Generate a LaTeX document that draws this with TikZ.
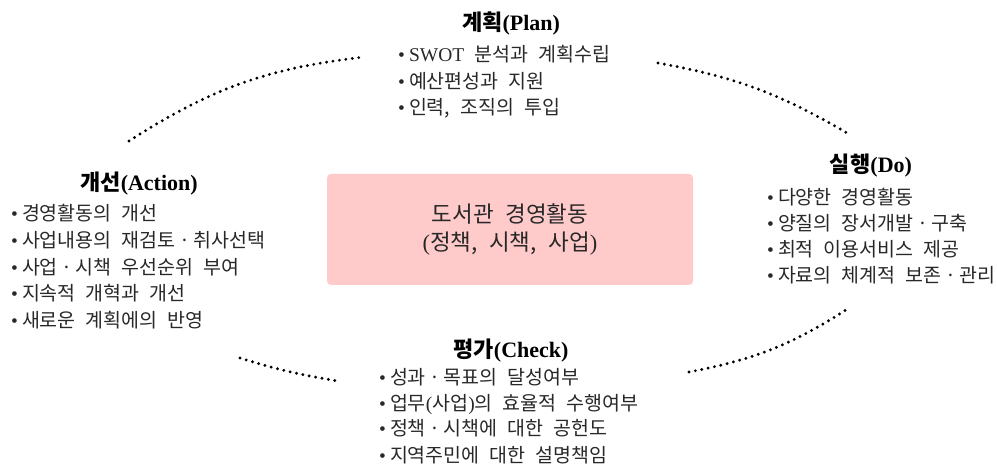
\documentclass[tikz,border=0pt]{standalone}
\usepackage{fontspec}
\setmainfont{Noto Sans CJK KR}[WordSpace=2.3]
\newfontfamily\lat{Liberation Serif}
\definecolor{boxpink}{RGB}{255,202,202}
\definecolor{txt}{RGB}{40,40,40}
\newcommand\bulletx{{\lat •}\hspace{4pt}}
\newcommand\mdot{\hspace{3.5pt}·\hspace{3.5pt}}
\tikzset{
  ttl/.style={font=\fontsize{22}{24}\selectfont\bfseries, anchor=base, inner sep=0pt, text=black},
  itm/.style={font=\fontsize{19.5}{22}\selectfont, anchor=base west, inner sep=0pt, text=txt},
  cbox/.style={fill=boxpink, draw=none, rounded corners=4pt, minimum width=366pt, minimum height=111pt,
    align=center, text=txt, font=\fontsize{22.5}{28}\selectfont, inner sep=0pt},
  dotline/.style={line width=3.2pt, line cap=round, dash pattern=on 0pt off 6.5pt}
}
\begin{document}
\begin{tikzpicture}[x=1pt, y=-1pt]
\useasboundingbox (0,0) rectangle (997,473);

% center box
\node[cbox] (core) at (510,229.5) {도서관 경영활동\\{\lat(}정책, 시책, 사업{\lat)}};

% Plan
\node[ttl] (plan) at (511,31) {계획{\lat(Plan)}};
\node[itm] (plan1) at (398,62) {\bulletx{\lat SWOT} 분석과 계획수립};
\node[itm] (plan2) at (398,88.5) {\bulletx 예산편성과 지원};
\node[itm] (plan3) at (398,115) {\bulletx 인력, 조직의 투입};

% Do
\node[ttl] (do) at (871,173) {실행{\lat(Do)}};
\node[itm] (do1) at (767,205) {\bulletx 다양한 경영활동};
\node[itm] (do2) at (767,231) {\bulletx 양질의 장서개발\mdot 구축};
\node[itm] (do3) at (767,257) {\bulletx 최적 이용서비스 제공};
\node[itm] (do4) at (767,283) {\bulletx 자료의 체계적 보존\mdot 관리};

% Action
\node[ttl] (act) at (139,191) {개선{\lat(Action)}};
\node[itm] (act1) at (11,221) {\bulletx 경영활동의 개선};
\node[itm] (act2) at (11,247.7) {\bulletx 사업내용의 재검토\mdot 취사선택};
\node[itm] (act3) at (11,274.4) {\bulletx 사업\mdot 시책 우선순위 부여};
\node[itm] (act4) at (11,301) {\bulletx 지속적 개혁과 개선};
\node[itm] (act5) at (11,327.8) {\bulletx 새로운 계획에의 반영};

% Check
\node[ttl] (chk) at (511,357) {평가{\lat(Check)}};
\node[itm] (chk1) at (379,384.5) {\bulletx 성과\mdot 목표의 달성여부};
\node[itm] (chk2) at (379,410) {\bulletx 업무{\lat(}사업{\lat)}의 효율적 수행여부};
\node[itm] (chk3) at (379,435.5) {\bulletx 정책\mdot 시책에 대한 공헌도};
\node[itm] (chk4) at (379,462) {\bulletx 지역주민에 대한 설명책임};

% dotted arcs
\coordinate (a1) at (129,141);
\coordinate (a2) at (364,57);
\coordinate (b1) at (658,63);
\coordinate (b2) at (847,133);
\coordinate (c1) at (849,308);
\coordinate (c2) at (689,372);
\coordinate (d1) at (338,381);
\coordinate (d2) at (240,358);
\draw[dotline] (a1) to[bend left=13] (a2);
\draw[dotline] (b1) to[bend left=10] (b2);
\draw[dotline] (c2) to[bend right=11] (c1);
\draw[dotline] (d2) to[bend right=4] (d1);
\end{tikzpicture}
\end{document}
